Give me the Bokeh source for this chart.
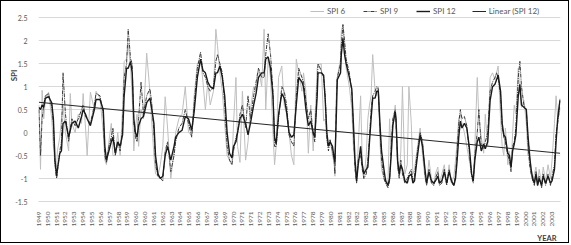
import math
from bokeh.plotting import figure
from bokeh.models import (Range1d, FixedTicker, NumeralTickFormatter, Legend, LegendItem, Title, Label)
from bokeh.embed import file_html
from bokeh.resources import INLINE

# month index since start of series (Dec 1949 = 0)
months = [0, 2, 4, 6, 8, 12, 16, 18, 20, 22, 23, 26, 28, 30, 33, 37, 39, 41, 45, 49, 53, 55, 58, 60, 64, 69, 71, 76, 80, 82,
          84, 87, 90, 92, 95, 98, 101, 104, 106, 109, 111, 114, 116, 118, 120, 122, 124, 127, 130, 134, 138, 140, 143, 145, 148, 151, 154, 157, 160, 164,
          168, 170, 174, 178, 182, 186, 190, 193, 197, 201, 204, 207, 210, 213, 217, 220, 222, 225, 228, 231, 234, 237, 240, 242, 245, 247, 250, 253, 257, 260,
          263, 267, 270, 273, 277, 280, 282, 285, 288, 291, 293, 295, 298, 302, 305, 308, 311, 314, 317, 320, 323, 327, 329, 332, 335, 338, 341, 343, 346, 347,
          351, 354, 356, 358, 360, 362, 365, 367, 368, 370, 371, 375, 376, 378, 380, 382, 386, 389, 391, 393, 395, 397, 400, 402, 404, 407, 409, 411, 413, 415,
          418, 420, 422, 424, 426, 429, 431, 434, 436, 438, 440, 443, 444, 446, 448, 450, 452, 455, 458, 460, 463, 465, 467, 470, 474, 477, 480, 482, 485, 488,
          491, 493, 496, 498, 501, 504, 507, 510, 513, 516, 518, 520, 522, 524, 526, 529, 532, 535, 538, 540, 542, 545, 547, 550, 553, 555, 558, 561, 564, 567,
          569, 571, 574, 576, 578, 580, 583, 585, 587, 589, 591, 593, 596, 598, 600, 603, 606, 608, 610, 612, 614, 616, 618, 620, 622, 625, 627, 630, 633, 636,
          638, 641, 643, 645, 647, 648]

spi12 = [0.55, 0.5, 0.6, 0.55, 0.75, 0.78, 0.65, 0.3, -0.6, -0.95, -0.8, -0.45, -0.4, 0.2, 0.25, -0.1, 0.05, 0.2, 0.25, 0.1, 0.35, 0.5, 0.4, 0.3, 0.15, 0.5, 0.72, 0.72, 0.5, -0.3,
         -0.6, -0.4, -0.2, -0.1, -0.45, -0.2, -0.3, -0.05, 0.8, 1.4, 1.4, 1.55, 1.3, 0.3, 0.0, -0.1, 0.15, 0.3, 0.35, 0.65, 0.75, 0.55, 0.2, -0.5, -0.9, -1.0, -0.95, -0.5, -0.3, -0.6,
         -0.3, -0.1, 0.0, 0.05, 0.35, 0.3, 0.05, 0.45, 1.2, 1.6, 1.35, 1.3, 1.1, 1.0, 0.95, 1.3, 1.3, 1.45, 1.2, 0.8, 0.0, -0.45, -0.55, -0.3, -0.2, 0.0, 0.3, 0.4, 0.2, -0.05,
         0.2, 0.6, 0.85, 1.2, 1.3, 1.3, 1.6, 1.65, 1.4, 0.8, -0.1, -0.25, 0.4, 0.85, 0.75, 0.45, 0.0, -0.1, -0.05, 0.6, 1.2, 1.1, 1.0, 0.5, 0.15, 0.25, 0.0, -0.1, 0.8, 1.3,
         1.3, 1.25, 0.7, 0.0, -0.3, -0.2, -0.3, -0.55, -0.65, 0.5, 1.15, 1.3, 1.7, 2.05, 1.7, 1.5, 1.2, 0.95, 0.2, -0.6, -1.05, -0.7, -0.3, -0.7, -0.9, -0.8, -0.75, -0.2, 0.3, 0.75,
         0.75, 0.9, 0.9, 0.2, -0.4, -0.8, -1.05, -1.15, -1.0, -0.5, 0.15, 0.45, 0.3, -0.6, -0.9, -0.7, -0.8, -1.05, -1.1, -0.95, -0.9, -1.1, -1.05, -0.6, -0.05, -0.3, -0.8, -1.1, -0.85, -1.05,
         -1.1, -1.05, -0.95, -1.1, -1.05, -0.85, -1.1, -0.85, -1.05, -1.15, -1.0, -0.6, -0.1, 0.25, 0.1, 0.2, 0.1, -0.3, -0.9, -1.05, -0.6, -0.2, -0.1, -0.4, -0.25, -0.35, -0.2, 0.7, 1.0, 1.05,
         1.15, 1.25, 0.9, 0.2, -0.05, -0.1, -0.45, -0.5, -0.75, -0.4, -0.25, -0.05, 0.8, 1.05, 0.6, 0.55, 0.5, -0.05, -0.5, -0.8, -1.0, -1.1, -0.9, -1.15, -1.0, -1.15, -0.95, -1.1, -0.95, -1.1,
         -1.05, -0.8, -0.2, 0.3, 0.6, 0.7]

spi9 = [0.5, -0.5, 0.3, 0.6, 0.8, 0.85, 0.55, 0.2, -0.7, -1.0, -0.85, -0.4, -0.2, 1.3, 0.4, -0.2, 0.1, 0.3, 0.15, 0.3, 0.5, 0.6, 0.35, 0.3, 0.2, 0.6, 0.85, 0.8, 0.4, -0.5,
        -0.65, -0.3, -0.1, 0.1, -0.5, -0.2, -0.4, 0.1, 1.2, 1.5, 2.25, 1.6, 1.5, 0.2, -0.1, -0.2, 0.3, 1.1, 0.4, 0.8, 0.95, 0.7, 0.0, -0.7, -0.95, -1.0, -1.05, -0.4, -0.2, -0.85,
        -0.5, -0.2, 0.1, 0.2, 0.5, 0.2, -0.1, 0.6, 1.4, 1.75, 1.3, 1.2, 1.0, 0.9, 1.0, 1.55, 1.7, 1.5, 1.3, 0.6, -0.3, -0.6, -0.7, -0.4, -0.1, 0.0, 0.4, 0.6, 0.1, 0.8,
        0.3, 0.8, 1.1, 1.4, 1.2, 1.2, 1.7, 2.15, 1.7, 0.9, -0.3, -0.3, 0.3, 1.0, 0.9, 0.6, -0.05, -0.2, -0.3, 0.8, 1.4, 1.2, 1.1, 0.7, 0.3, 0.5, -0.05, -0.2, 1.0, 1.5,
        1.35, 1.2, 0.8, -0.1, -0.4, -0.15, -0.4, -0.6, -0.9, 0.8, 1.2, 1.5, 1.9, 2.35, 2.0, 1.6, 1.3, 0.9, 0.1, -0.8, -1.1, -0.6, -0.5, -0.8, -1.0, -0.9, -0.6, -0.1, 0.5, 0.8,
        0.9, 1.0, 0.95, 0.1, -0.6, -1.0, -1.1, -1.2, -1.05, -0.3, 0.3, 0.5, 0.2, -0.7, -1.0, -0.6, -0.9, -1.1, -1.0, -0.9, -0.8, -1.05, -0.95, -0.5, 0.0, -0.2, -0.9, -1.15, -0.8, -1.1,
        -1.15, -1.0, -0.85, -1.15, -1.1, -0.8, -1.15, -0.8, -1.1, -1.15, -0.9, -0.4, 0.2, 0.5, 0.3, 0.35, 0.15, -0.4, -0.95, -1.1, -0.5, 0.0, 0.5, -0.3, -0.35, -0.2, 0.0, 0.9, 1.1, 1.2,
        1.3, 1.2, 0.8, 0.1, -0.1, -0.2, -0.5, -0.6, -0.85, -0.3, -0.2, 0.1, 1.2, 1.55, 1.0, 0.6, 0.5, -0.2, -0.7, -0.9, -1.05, -1.15, -0.85, -1.15, -0.95, -1.2, -0.9, -1.15, -0.9, -1.15,
        -0.95, -0.7, 0.0, 0.2, 0.5, 0.75]

spi6 = [0.6, -0.8, 0.92, 0.3, 0.7, 0.88, 0.3, -0.3, -0.7, -0.75, -0.4, -0.1, 0.3, 0.6, 0.0, -0.4, 0.85, 0.2, 0.0, 0.4, 0.2, 0.85, 0.1, -0.5, 0.88, 0.5, 0.9, 0.75, 0.0, -0.6,
        -0.7, -0.2, 0.2, -0.5, -0.5, 0.0, -0.5, 0.5, 1.55, 1.6, 1.95, 1.4, 0.8, -0.4, 0.1, 0.4, -0.3, 0.5, 0.3, 1.73, 0.9, 0.3, -0.5, -0.9, -0.95, -0.7, -0.3, 0.78, 0.1, -1.0,
        -0.4, 0.0, 0.3, 0.4, 1.0, 0.0, -0.05, 0.8, 1.5, 1.6, 1.1, 0.5, 1.1, 0.6, 0.9, 2.25, 1.9, 1.3, 0.9, 0.2, -0.5, -0.6, -0.7, 0.2, 1.2, -0.3, -0.65, 0.9, -0.6, -0.2,
        0.5, 1.0, 0.9, 1.4, 1.0, 2.25, 0.5, 1.6, 1.2, 0.0, -0.7, -0.3, 1.2, 1.45, 0.6, 0.4, 0.0, -0.5, -0.7, 1.6, 1.3, 0.9, 1.3, 0.9, -0.45, 0.6, -0.4, 0.2, 1.4, 1.45,
        1.5, 0.25, 0.3, -0.2, -0.3, -0.15, -0.5, -0.65, -0.95, 1.0, 1.2, 1.6, 2.2, 2.35, 1.8, 1.4, 1.0, 0.5, -0.3, -0.7, -1.0, -0.3, 0.8, -0.6, -1.0, -0.5, 0.3, 0.6, 0.8, 1.7,
        0.9, 0.8, 1.0, -0.2, -0.8, -1.0, -1.0, -1.1, 0.3, -0.5, 0.1, 0.6, 0.3, -0.8, -0.9, -0.4, 1.0, -0.9, -0.7, 1.0, 0.2, -0.9, -0.8, -0.4, 0.1, -0.5, -1.0, -1.1, -0.6, -1.0,
        -1.15, -0.9, -0.75, -1.1, -0.9, -0.7, -1.1, -0.7, -1.1, -0.95, -0.6, -0.2, 0.3, 0.4, 0.2, 0.0, -0.3, -0.6, -0.9, -1.0, -0.3, 1.2, 0.3, -0.1, -0.45, 0.4, -0.3, 1.2, 1.3, 1.15,
        1.3, 1.45, 0.3, -0.3, -0.5, 0.1, -0.7, -0.4, -0.8, 0.0, 0.6, 0.4, 1.4, 0.9, 0.55, 0.7, 0.2, -0.5, -0.3, -0.9, -1.05, -0.9, -0.75, -1.1, -0.8, -1.1, -0.75, -1.05, -0.7, -1.0,
        -0.6, 0.2, 0.8, 0.3, 0.4, 0.55]

# linear trend of SPI 12 (read at first and last month)
trend_months = [0, 648]
trend_spi12 = [0.66, -0.45]

year_labels = ["1949", "1950", "1951", "1952", "1953", "1954", "1955", "1956", "1957", "1958", "1959", "1960",
               "1960", "1961", "1962", "1963", "1964", "1965", "1966", "1967", "1968", "1969", "1970", "1971",
               "1971", "1972", "1973", "1974", "1975", "1976", "1977", "1978", "1979", "1980", "1981", "1982",
               "1982", "1983", "1984", "1985", "1986", "1987", "1988", "1989", "1990", "1991", "1992", "1993",
               "1993", "1994", "1995", "1996", "1997", "1998", "1999", "2000", "2001", "2002", "2003"]
label_step = 11  # months between category labels
y_ticks = [-1.5, -1, -0.5, 0, 0.5, 1, 1.5, 2, 2.5]

FONT = "Lato"
GREY_TXT = "#595959"
DARK_TXT = "#404040"

# frame reaches the top of the canvas so the legend (inside the frame) is not clipped
y_top = 2.853

p = figure(width=569, height=243, output_backend="svg", toolbar_location=None,
           x_range=Range1d(-0.5, max(months) + 0.5), y_range=Range1d(min(y_ticks), y_top),
           min_border_left=37, min_border_right=10, min_border_top=0, min_border_bottom=37)
p.outline_line_color = None
p.background_fill_color = "white"
p.border_fill_color = "white"
p.styles = {"border": "1px solid #000000"}

r6 = p.line(months, spi6, line_color="#bfbfbf", line_width=1)
r9 = p.line(months, spi9, line_color="#3a3a3a", line_width=1, line_dash="4 1 1 1")
r12 = p.line(months, spi12, line_color="#1a1a1a", line_width=1.4)
rt = p.line(trend_months, trend_spi12, line_color="#262626", line_width=1)

tick_pos = [i * label_step for i in range(len(year_labels))]
p.xaxis.ticker = FixedTicker(ticks=tick_pos)
p.xaxis.major_label_overrides = {t: lab for t, lab in zip(tick_pos, year_labels)}
p.xaxis.major_label_orientation = math.pi / 2
p.xaxis.major_label_text_font = FONT
p.xaxis.major_label_text_font_size = "6.5px"
p.xaxis.major_label_text_color = GREY_TXT
p.xaxis.major_label_standoff = 4
p.xaxis.major_tick_line_color = None
p.xaxis.minor_tick_line_color = None
p.xaxis.axis_line_color = "#d9d9d9"

p.yaxis.ticker = FixedTicker(ticks=y_ticks)
p.yaxis.formatter = NumeralTickFormatter(format="0.[0]")
p.yaxis.major_label_text_font = FONT
p.yaxis.major_label_text_font_size = "7px"
p.yaxis.major_label_text_color = GREY_TXT
p.yaxis.major_label_standoff = 5
p.yaxis.major_tick_line_color = None
p.yaxis.minor_tick_line_color = None
p.yaxis.axis_line_color = None

p.xgrid.visible = False
p.ygrid.grid_line_color = "#d9d9d9"
p.ygrid.grid_line_width = 1

legend = Legend(items=[LegendItem(label="SPI 6", renderers=[r6]),
                       LegendItem(label="SPI 9", renderers=[r9]),
                       LegendItem(label="SPI 12", renderers=[r12]),
                       LegendItem(label="Linear (SPI 12)", renderers=[rt])],
                location=(272, 185), orientation="horizontal", glyph_width=14, glyph_height=8,
                label_height=8, padding=0, margin=0, spacing=16, border_line_alpha=0,
                background_fill_alpha=0, label_text_font=FONT, label_text_font_size="8px",
                label_text_color=GREY_TXT, label_standoff=3)
p.add_layout(legend)

spi_label = Label(x=11.5, y=126, x_units="screen", y_units="screen", text="SPI", angle=math.pi / 2,
                  text_align="center", text_baseline="middle", text_font=FONT, text_font_style="bold",
                  text_font_size="8px", text_color=DARK_TXT)
p.add_layout(spi_label, "left")
year_title = Title(text="YEAR", align="right", offset=4, standoff=4, text_font=FONT,
                   text_font_style="bold", text_font_size="7.5px", text_color=DARK_TXT)
p.add_layout(year_title, "below")

open("out.html", "w").write(file_html(p, INLINE))
